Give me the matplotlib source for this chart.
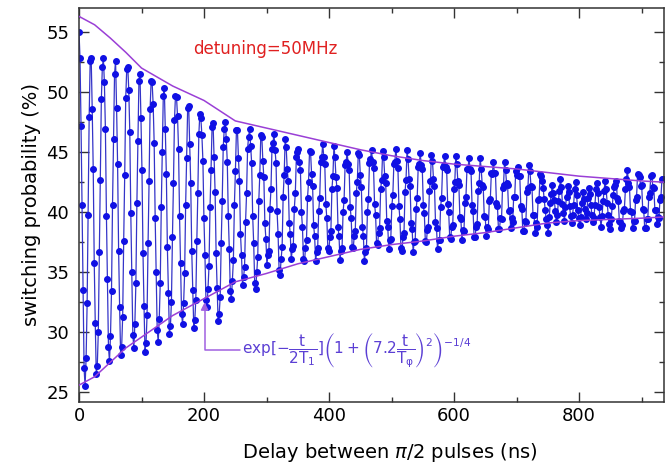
import matplotlib.pyplot as plt

# envelope
env_t = [0, 25, 50, 75, 100, 150, 200, 250, 300, 350, 400, 450, 500, 550,
         600, 650, 700, 750, 800, 850, 900, 935]
env_hi = [56.3, 55.6, 54.5, 53.3, 52.0, 50.5, 49.3, 47.6, 47.0, 46.4, 45.8,
          45.2, 44.7, 44.3, 44.0, 43.8, 43.6, 43.3, 43.0, 42.8, 42.6, 42.5]
env_lo = [25.6, 26.3, 27.5, 28.7, 29.6, 31.4, 32.8, 34.2, 34.9, 35.7, 36.3,
          36.9, 37.3, 37.6, 38.0, 38.3, 38.7, 39.1, 39.3, 39.4, 39.5, 39.6]

# switching probability (%), one row per fringe (19.5 ns), 12 points each
t_step = 1.625
p_sw = [
    55.0, 52.8, 47.2, 40.6, 33.5, 27.0, 25.5, 27.9, 32.4, 39.8, 47.9, 52.6,
    52.8, 48.6, 43.6, 35.8, 30.8, 26.5, 27.2, 30.0, 36.7, 42.7, 49.4, 52.1,
    52.8, 50.8, 46.9, 39.7, 34.4, 28.8, 27.6, 29.7, 33.4, 40.6, 46.1, 51.5,
    52.6, 48.7, 44.0, 36.8, 32.1, 28.1, 28.8, 31.3, 37.6, 43.1, 49.5, 51.9,
    52.1, 50.2, 46.7, 39.9, 35.0, 29.8, 28.7, 30.7, 34.1, 40.8, 45.9, 50.9,
    51.5, 47.8, 43.5, 36.6, 32.2, 28.4, 29.1, 31.4, 37.4, 42.6, 48.6, 50.9,
    50.8, 49.0, 45.8, 39.5, 35.0, 30.2, 29.2, 31.1, 34.1, 40.4, 45.0, 49.7,
    50.3, 46.9, 43.2, 37.1, 33.3, 29.9, 30.5, 32.5, 37.9, 42.4, 47.7, 49.7,
    49.6, 48.0, 45.3, 39.7, 35.8, 31.5, 30.7, 32.4, 34.9, 40.6, 44.5, 48.7,
    48.8, 45.7, 42.4, 36.8, 33.5, 30.4, 31.0, 32.7, 37.6, 41.6, 46.5, 48.2,
    47.8, 46.4, 44.3, 39.5, 36.4, 32.7, 32.1, 33.6, 35.5, 40.4, 43.5, 47.1,
    47.4, 44.6, 41.7, 36.6, 33.7, 30.9, 31.5, 32.9, 37.4, 40.9, 45.4, 46.9,
    47.5, 46.1, 44.2, 39.7, 36.9, 33.4, 32.8, 34.3, 36.0, 40.6, 43.4, 46.8,
    46.8, 44.5, 42.6, 38.2, 36.4, 33.9, 34.6, 35.4, 39.2, 41.6, 45.3, 46.3,
    46.9, 45.5, 44.1, 39.7, 37.4, 34.1, 33.6, 35.0, 36.3, 40.9, 43.1, 46.4,
    46.3, 44.3, 42.9, 39.1, 37.8, 35.6, 36.4, 36.8, 40.3, 41.9, 45.3, 45.8,
    46.5, 45.2, 44.1, 40.1, 38.2, 35.2, 34.8, 36.1, 37.1, 41.3, 43.1, 46.1,
    45.4, 43.6, 42.6, 39.1, 38.2, 36.1, 36.9, 37.2, 40.3, 41.6, 44.6, 45.0,
    45.3, 44.2, 43.5, 40.0, 38.8, 36.1, 35.9, 37.0, 37.7, 41.2, 42.5, 45.1,
    45.0, 43.2, 42.2, 38.9, 38.0, 35.9, 36.7, 37.0, 40.1, 41.2, 44.2, 44.6,
    45.7, 44.6, 44.0, 40.7, 39.5, 37.0, 36.8, 37.9, 38.4, 41.9, 43.0, 45.5,
    44.6, 42.9, 42.0, 38.8, 38.0, 36.0, 36.8, 37.0, 40.0, 41.0, 43.9, 44.2,
    45.0, 44.0, 43.5, 40.4, 39.5, 37.1, 37.0, 38.0, 38.4, 41.6, 42.5, 44.9,
    44.8, 43.1, 42.1, 38.8, 38.0, 35.9, 36.7, 37.0, 40.0, 41.1, 44.1, 44.4,
    45.2, 44.2, 43.7, 40.7, 39.8, 37.4, 37.3, 38.3, 38.7, 41.9, 42.7, 45.1,
    44.6, 43.0, 42.4, 39.3, 38.8, 36.9, 37.7, 37.8, 40.5, 41.4, 44.0, 44.2,
    45.3, 44.3, 43.7, 40.5, 39.4, 37.0, 36.8, 37.9, 38.3, 41.7, 42.7, 45.2,
    44.4, 42.8, 42.2, 39.1, 38.6, 36.7, 37.5, 37.6, 40.3, 41.2, 43.8, 44.0,
    44.9, 43.9, 43.6, 40.6, 39.9, 37.6, 37.5, 38.5, 38.8, 41.8, 42.6, 44.8,
    44.3, 42.8, 42.2, 39.2, 38.7, 36.9, 37.7, 37.7, 40.4, 41.2, 43.8, 43.9,
    44.7, 43.8, 43.5, 40.7, 40.0, 37.9, 37.8, 38.8, 38.9, 41.9, 42.5, 44.7,
    44.0, 42.6, 42.3, 39.6, 39.4, 37.7, 38.5, 38.4, 40.8, 41.3, 43.6, 43.6,
    44.5, 43.6, 43.4, 40.6, 40.1, 37.9, 37.9, 38.8, 39.0, 41.8, 42.4, 44.5,
    43.6, 42.3, 42.1, 39.7, 39.6, 38.0, 38.8, 38.6, 40.9, 41.1, 43.3, 43.2,
    44.2, 43.3, 43.3, 40.8, 40.5, 38.6, 38.6, 39.5, 39.4, 42.0, 42.3, 44.2,
    43.5, 42.4, 42.3, 40.1, 40.2, 38.7, 39.5, 39.2, 41.3, 41.3, 43.4, 43.1,
    43.8, 43.0, 43.0, 40.5, 40.3, 38.4, 38.4, 39.3, 39.2, 41.7, 42.0, 43.9,
    43.4, 42.2, 42.1, 39.8, 39.8, 38.3, 39.1, 38.8, 41.0, 41.1, 43.2, 43.0,
    42.6, 42.0, 41.1, 40.2, 39.4, 38.9, 38.3, 39.6, 40.8, 41.5, 42.3, 41.6,
    41.0, 40.1, 39.2, 39.8, 40.9, 41.8, 42.8, 42.1, 40.7, 39.9, 39.3, 40.4,
    41.3, 42.2, 41.7, 40.5, 39.7, 39.1, 39.8, 40.6, 41.9, 42.5, 41.4, 40.2,
    39.5, 38.9, 39.6, 40.8, 41.7, 41.1, 40.3, 39.4, 39.9, 41.2, 42.0, 41.5,
    40.6, 39.8, 39.2, 39.5, 40.6, 41.9, 42.4, 41.6, 40.4, 39.6, 38.8, 39.7,
    40.9, 41.8, 42.6, 41.9, 40.8, 39.8, 39.0, 38.6, 39.4, 40.5, 41.4, 42.1,
    42.3, 42.6, 41.2, 40.9, 39.3, 39.2, 38.7, 38.9, 40.1, 40.3, 41.9, 42.8,
    43.5, 42.4, 42.1, 40.1, 40.0, 38.7, 39.3, 39.3, 41.0, 41.3, 43.2, 43.1,
    42.9, 42.2, 42.3, 40.3, 40.2, 38.7, 38.7, 39.4, 39.4, 41.3, 41.6, 43.0,
    43.1, 42.1, 42.0, 40.2, 40.2, 39.0, 39.6, 39.5, 41.0, 41.3, 42.8, 42.8,
]
t_ns = [i * t_step for i in range(len(p_sw))]

plt.rcParams['font.family'] = 'DejaVu Sans'
plt.rcParams['mathtext.fontset'] = 'dejavusans'

fig = plt.figure(figsize=(6.65, 4.69), dpi=100)
ax = fig.add_axes([0.1188, 0.1429, 0.8797, 0.8401])

ax.plot(env_t, env_hi, color='#9a3fd6', lw=1.1, zorder=3)
ax.plot(env_t, env_lo, color='#9a3fd6', lw=1.1, zorder=3)
ax.plot(t_ns, p_sw, color='#3434c8', lw=0.9, marker='o', ms=4.0,
        mfc='#1010e4', mec='#1010e4', zorder=2)

ax.text(182, 53.6, 'detuning=50MHz', color='#e02020', fontsize=12,
        va='center', ha='left')

ax.annotate('', xy=(201, 32.5), xytext=(258, 28.5),
            arrowprops=dict(arrowstyle='-|>', color='#a060e0', lw=1.1,
                            connectionstyle='angle,angleA=0,angleB=90,rad=0',
                            shrinkA=0, shrinkB=0, mutation_scale=11))
ax.text(261, 28.5,
        r'$\mathrm{exp}[-\dfrac{\mathrm{t}}{\mathrm{2T_1}}]'
        r'\left(1+\left(7.2\dfrac{\mathrm{t}}{\mathrm{T_\varphi}}\right)^2\right)^{-1/4}$',
        color='#5b3fd4', fontsize=11, va='center', ha='left')

ax.set_xlim(0, 936)
ax.set_ylim(24.2, 57.0)
ax.set_xticks([0, 200, 400, 600, 800])
ax.set_xticks([100, 300, 500, 700, 900], minor=True)
ax.set_yticks([25, 30, 35, 40, 45, 50, 55])
ax.set_yticks([27.5, 32.5, 37.5, 42.5, 47.5, 52.5], minor=True)
ax.tick_params(which='both', direction='in', top=True, right=True,
               labelsize=13, width=1, color='#333333')
ax.tick_params(which='major', length=7)
ax.tick_params(which='minor', length=3.8)
ax.tick_params(axis='y', pad=7)
for s in ax.spines.values():
    s.set_linewidth(1.1)
    s.set_color('#333333')

ax.set_ylabel('switching probability (%)', fontsize=14, labelpad=4)
fig.text(390 / 665, 1 - 452 / 469, r'Delay between $\pi$/2 pulses (ns)',
         fontsize=14, ha='center', va='center')

fig.savefig('out.png', dpi=100)
